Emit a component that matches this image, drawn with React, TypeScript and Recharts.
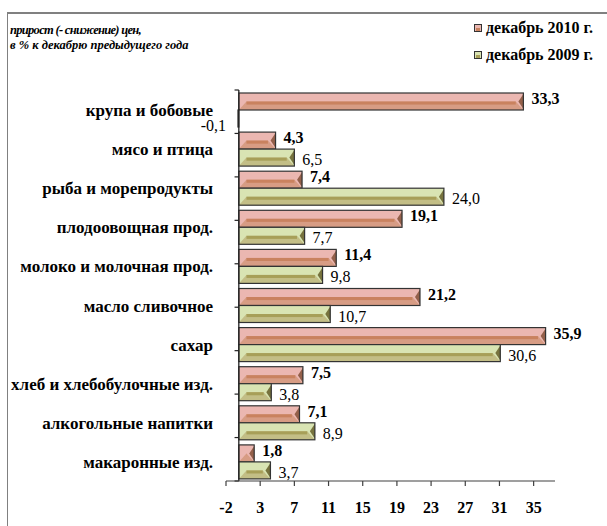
import React from 'react';
import {
  BarChart,
  Bar,
  XAxis,
  YAxis,
  ReferenceLine,
  LabelList,
  Legend,
} from 'recharts';

const categories = [
  'крупа и бобовые',
  'мясо и птица',
  'рыба и морепродукты',
  'плодоовощная прод.',
  'молоко и молочная прод.',
  'масло сливочное',
  'сахар',
  'хлеб и хлебобулочные изд.',
  'алкогольные напитки',
  'макаронные изд.',
];

const dec2010 = [33.3, 4.3, 7.4, 19.1, 11.4, 21.2, 35.9, 7.5, 7.1, 1.8];
const dec2009 = [-0.1, 6.5, 24.0, 7.7, 9.8, 10.7, 30.6, 3.8, 8.9, 3.7];

const xTicks = [-1.5, 2.5, 6.5, 10.5, 14.5, 18.5, 22.5, 26.5, 30.5, 34.5];
const xTickLabels = ['-2', '3', '7', '11', '15', '19', '23', '27', '31', '35'];

const seriesNames = ['декабрь 2010 г.', 'декабрь 2009 г.'];

const data = categories.map((name, i) => ({ name, v2010: dec2010[i], v2009: dec2009[i] }));
const boundaries = categories.map((_, i) => i).concat([categories.length]);

const FONT = "'Liberation Serif', 'DejaVu Serif', serif";

const palette = {
  v2010: { light: '#ebb7b1', dark: '#c9825f', mid: '#d79c84', tip: '#94604a' },
  v2009: { light: '#d9e4b3', dark: '#a79f58', mid: '#c3be86', tip: '#77733e' },
};

const makeBevel = (key: 'v2010' | 'v2009') => (props: any) => {
  let { x, y, width: w, height: h } = props;
  if (w == null || h == null) return null;
  if (w < 0) {
    x += w;
    w = -w;
  }
  const c = palette[key];
  const mid = y + h * 0.5;
  const inset = Math.min(h * 0.45, w / 2);
  const tip = Math.min(5, w / 2);
  return (
    <g>
      <rect x={x} y={y} width={w} height={h} fill={c.light} />
      <polygon
        points={`${x},${y + h} ${x + inset},${mid} ${x + w - inset},${mid} ${x + w},${y + h}`}
        fill={c.mid}
      />
      <rect x={x + inset} y={mid} width={Math.max(0, w - 2 * inset)} height={h * 0.18} fill={c.dark} />
      <polygon points={`${x + w},${y + 1} ${x + w - tip},${mid} ${x + w},${y + h - 1}`} fill={c.tip} />
      <rect x={x} y={y} width={w} height={h} fill="none" stroke="#333" strokeWidth={1.2} />
    </g>
  );
};

const fmt = (v: number) => v.toFixed(1).replace('.', ',');

const makeLabel = (dy: number, weight: string) => (props: any) => {
  const { x, y, width, height, value } = props;
  const neg = value < 0;
  const tx = neg ? x + width - 12 : x + width + 8;
  return (
    <text
      x={tx}
      y={y + height / 2 + dy + (neg ? 5 : 0)}
      textAnchor={neg ? 'end' : 'start'}
      dominantBaseline="central"
      fontFamily={FONT}
      fontSize={16}
      fontWeight={weight}
      fill="#000"
    >
      {fmt(value)}
    </text>
  );
};

const CategoryTick = (props: any) => {
  const { x, y, payload } = props;
  return (
    <text
      x={x}
      y={y + 1}
      textAnchor="end"
      dominantBaseline="central"
      fontFamily={FONT}
      fontSize={17}
      fontWeight="bold"
      fill="#000"
    >
      {payload.value}
    </text>
  );
};

const LegendSwatch = ({ k }: { k: 'v2010' | 'v2009' }) => {
  const c = palette[k];
  return (
    <svg width={8} height={8} style={{ display: 'block' }}>
      <rect x={0.5} y={0.5} width={7} height={7} fill={c.light} stroke="#333" />
      <rect x={2} y={4} width={4} height={3} fill={c.dark} />
    </svg>
  );
};

const LegendContent = () => (
  <div style={{ fontFamily: FONT, fontWeight: 'bold', fontSize: 16, color: '#000' }}>
    {(['v2010', 'v2009'] as const).map((k, i) => (
      <div
        key={k}
        style={{ display: 'flex', alignItems: 'center', height: 16, marginBottom: i === 0 ? 11 : 0 }}
      >
        <LegendSwatch k={k} />
        <span style={{ marginLeft: 4, whiteSpace: 'nowrap' }}>{seriesNames[i]}</span>
      </div>
    ))}
  </div>
);

export default function App() {
  return (
    <div
      style={{
        position: 'absolute',
        left: 0,
        top: 0,
        width: 607,
        height: 526,
        background: '#fff',
        overflow: 'hidden',
      }}
    >
      <div style={{ position: 'absolute', left: 7, top: 12, width: 600, height: 1.5, background: '#808080' }} />
      <div style={{ position: 'absolute', left: 7, top: 12, width: 1.3, height: 514, background: '#808080' }} />
      <div
        style={{
          position: 'absolute',
          left: 10,
          top: 23,
          fontFamily: FONT,
          fontStyle: 'italic',
          fontWeight: 'bold',
          fontSize: 12.5,
          lineHeight: '15px',
          color: '#000',
          whiteSpace: 'nowrap',
        }}
      >
        <div style={{ letterSpacing: -0.7 }}>прирост (- снижение) цен,</div>
        <div>в % к декабрю предыдущего года</div>
      </div>
      <div style={{ position: 'absolute', left: 0, top: 0 }}>
        <BarChart
          width={607}
          height={526}
          data={data}
          layout="vertical"
          margin={{ top: 90, right: 52, bottom: 15, left: 0 }}
          barCategoryGap={3}
          barGap={0}
        >
          <XAxis
            type="number"
            domain={[-1.5, 37]}
            ticks={xTicks}
            allowDataOverflow
            tickFormatter={(v: number, i: number) => xTickLabels[i] ?? String(v)}
            axisLine={{ stroke: '#404040', strokeWidth: 1.2 }}
            tickLine={{ stroke: '#404040', strokeWidth: 1.2 }}
            tickSize={5}
            tickMargin={16}
            height={30}
            tick={{ fontFamily: FONT, fontSize: 16, fontWeight: 'bold', fill: '#000' }}
            interval={0}
          />
          <YAxis
            type="category"
            dataKey="name"
            width={226}
            axisLine={false}
            tickLine={false}
            tickSize={0}
            tickMargin={13}
            tick={<CategoryTick />}
            interval={0}
          />
          <YAxis yAxisId="bounds" type="number" domain={[0, categories.length]} reversed hide />
          <ReferenceLine x={0} stroke="#222" strokeWidth={1.3} />
          {boundaries.map((b) => (
            <ReferenceLine
              key={b}
              yAxisId="bounds"
              segment={[
                { x: -0.5, y: b },
                { x: 0, y: b },
              ]}
              stroke="#222"
              strokeWidth={1.2}
            />
          ))}
          <Legend
            layout="vertical"
            align="center"
            verticalAlign="middle"
            content={<LegendContent />}
            wrapperStyle={{ left: 474, top: 20, width: 133, height: 50 }}
          />
          <Bar dataKey="v2010" name={seriesNames[0]} shape={makeBevel('v2010')} isAnimationActive={false}>
            <LabelList dataKey="v2010" content={makeLabel(-3, 'bold')} />
          </Bar>
          <Bar dataKey="v2009" name={seriesNames[1]} shape={makeBevel('v2009')} isAnimationActive={false}>
            <LabelList dataKey="v2009" content={makeLabel(2, 'normal')} />
          </Bar>
        </BarChart>
      </div>
    </div>
  );
}
